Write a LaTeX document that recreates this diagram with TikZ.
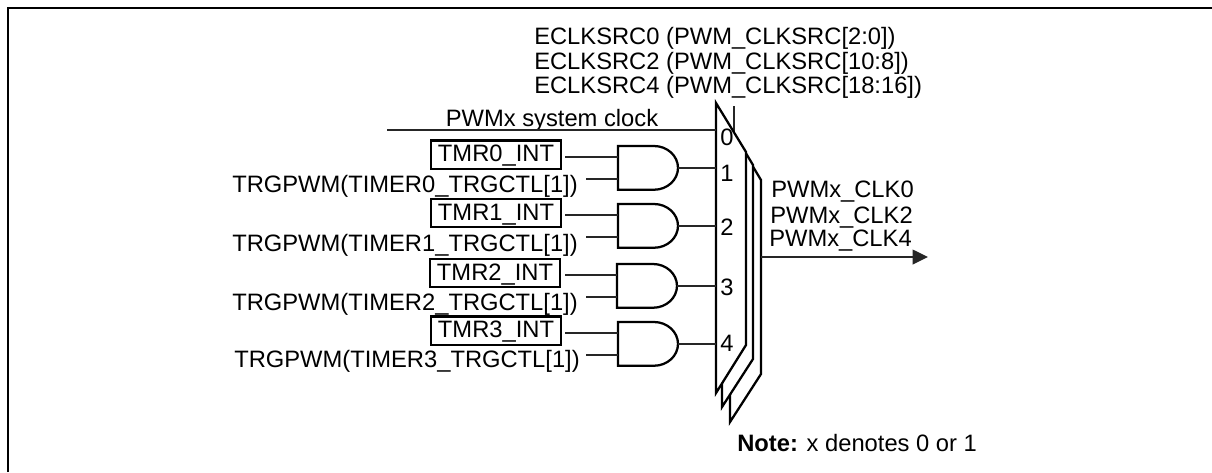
\documentclass[tikz,border=0pt]{standalone}
\usepackage{fontspec}
\setmainfont{Liberation Sans}
\usetikzlibrary{arrows.meta}
\begin{document}
\begin{tikzpicture}[x=0.75pt,y=-0.75pt,
  lbl/.style={font=\fontsize{17.8}{20}\selectfont,inner sep=0pt,text height=12.8pt,text depth=3.8pt},
  wire/.style={line width=1.1pt,draw=black!85},
  outl/.style={line width=1.7pt,fill=white,line join=miter},
  tmrbox/.style={font=\fontsize{17.8}{20}\selectfont,inner sep=0pt,text height=14pt,text depth=3.2pt,draw,line width=1.7pt,minimum width=98pt,minimum height=21.2pt},
  frm/.style={line width=1.7pt}]
\useasboundingbox (0,0) rectangle (1212,472);
\draw[frm] (8,472) -- (8,8) -- (1212,8);
% top labels
\node[lbl,anchor=west] (e0) at (534,38) {ECLKSRC0 (PWM\_CLKSRC[2:0])};
\node[lbl,anchor=west] (e2) at (534,63) {ECLKSRC2 (PWM\_CLKSRC[10:8])};
\node[lbl,anchor=west] (e4) at (534,87) {ECLKSRC4 (PWM\_CLKSRC[18:16])};
% select line (behind mux)
\coordinate (selTop) at (734,106);
\coordinate (selBot) at (734,135);
\draw[wire] (selTop) -- (selBot);
% back layers
\draw[outl] (730,395) -- (730,422) -- (761,374) -- (761,180) -- (740,145) -- cycle;
\draw[outl] (722,383) -- (722,407) -- (753,359) -- (753,165) -- (735,135) -- cycle;
% main mux
\draw[outl] (716,103) -- (746,152) -- (746,345) -- (716,393) -- cycle;
\coordinate (m0) at (716,130);
\coordinate (m1) at (716,168);
\coordinate (m2) at (716,226);
\coordinate (m3) at (716,286);
\coordinate (m4) at (716,344);
\node[lbl,anchor=west] (p0) at (720,139) {0};
\node[lbl,anchor=west] (p1) at (720,175.7) {1};
\node[lbl,anchor=west] (p2) at (720,229) {2};
\node[lbl,anchor=west] (p3) at (720,289) {3};
\node[lbl,anchor=west] (p4) at (720,345.7) {4};
% system clock
\node[lbl] (sys) at (552,120) {PWMx system clock};
\coordinate (s0) at (387,130);
\draw[wire] (s0) -- (m0);
% input rows: index / box centre y / box x / gate-top y / label x / label y / gate x
\foreach \i/\by/\bx/\gy/\lx/\ly/\gx in {0/154.5/496/146/232/186/618,1/213/496/204/232/245/618,2/273/495/264/232/304/617,3/330.5/496/322/234/361/618}{
  \node[tmrbox] (b\i) at (\bx,\by) {TMR\i\_INT};
  \node[lbl,anchor=west] (t\i) at (\lx,\ly) {TRGPWM(TIMER\i\_TRGCTL[1])};
  \coordinate (g\i) at (\gx,\gy);
  \draw[line width=1.7pt] (g\i) -- ++(36,0) arc[start angle=90,end angle=-90,x radius=18pt,y radius=16.4pt] -- ++(-36,0) -- cycle;
  \coordinate (ga\i) at (\gx,\gy+11);
  \coordinate (gb\i) at (\gx,\gy+33);
  \coordinate (go\i) at (\gx+60,\gy+22);
  \coordinate (ta\i) at (565,\gy+11);
  \coordinate (tb\i) at (586,\gy+33);
  \draw[wire] (ta\i) -- (ga\i);
  \draw[wire] (tb\i) -- (gb\i);
  \draw[wire] (go\i) -- (m\the\numexpr\i+1\relax);
}
% output
\node[lbl,anchor=west] (c0) at (771,191) {PWMx\_CLK0};
\node[lbl,anchor=west] (c2) at (770,217) {PWMx\_CLK2};
\node[lbl,anchor=west] (c4) at (769,240.7) {PWMx\_CLK4};
\coordinate (outA) at (761,257);
\coordinate (outB) at (928,257);
\draw[wire,-{Triangle[length=11.5pt,width=11pt]}] (outA) -- (outB);
\node[lbl,anchor=west] (note) at (737,445.7) {\textbf{Note:} x denotes 0 or 1};
\end{tikzpicture}
\end{document}
